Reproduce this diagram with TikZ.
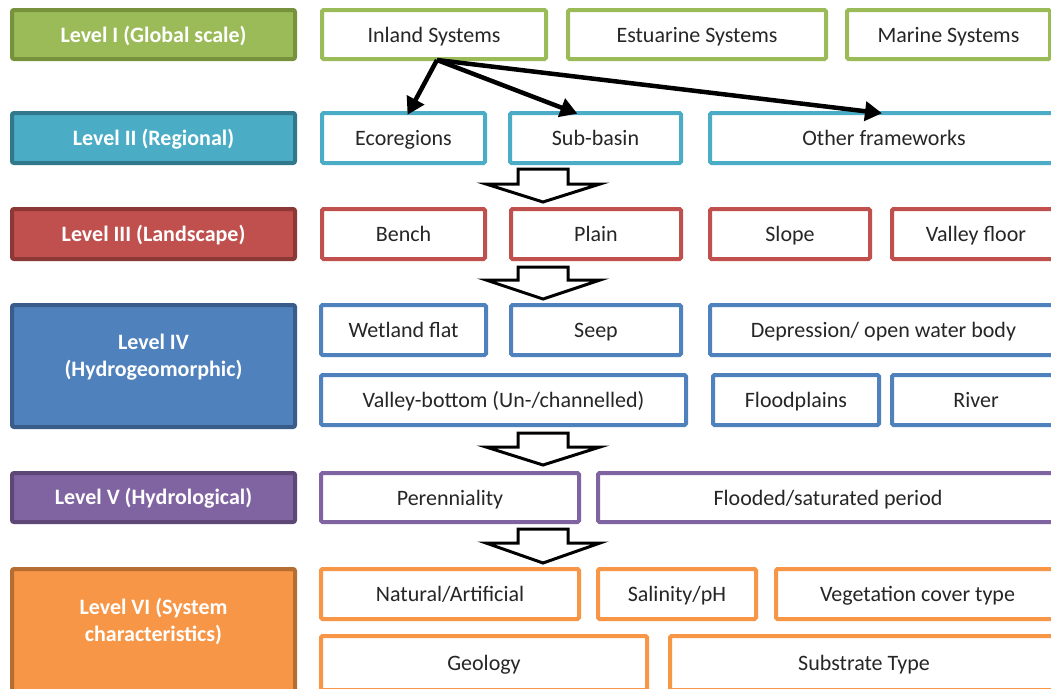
\documentclass[tikz,border=0pt]{standalone}
\usepackage{fontspec}
\setmainfont{Carlito}
\usetikzlibrary{arrows.meta}
\definecolor{gF}{HTML}{9BBB59}\definecolor{gD}{HTML}{76923C}
\definecolor{cF}{HTML}{4BACC6}\definecolor{cD}{HTML}{31788D}
\definecolor{rF}{HTML}{C0504D}\definecolor{rD}{HTML}{8C3836}
\definecolor{bF}{HTML}{4F81BD}\definecolor{bD}{HTML}{385D8A}
\definecolor{pF}{HTML}{8064A2}\definecolor{pD}{HTML}{5C4776}
\definecolor{oF}{HTML}{F79646}\definecolor{oD}{HTML}{B66D31}
\definecolor{txt}{HTML}{262626}
\tikzset{
  rb/.style={draw, line width=4pt, fill=white, inner sep=0pt, outer sep=0pt,
    text=txt, font=\fontsize{22}{27}\selectfont, rounded corners=1.5pt,
    text height=17pt, text depth=2pt},
  lb/.style={draw, line width=4pt, inner sep=0pt, outer sep=0pt,
    text=white, align=center, rounded corners=2pt},
  lt/.style={text=white, font=\bfseries\fontsize{22}{27}\selectfont, align=center},
  link/.style={line width=4.5pt, draw=black, -{Triangle[length=17pt,width=19pt]}, shorten >=-2pt},
  blockarrow/.style={draw=black, fill=white, line width=3pt, line join=miter}
}
% #1 name, #2 x1, #3 y1, #4 x2, #5 y2, #6 colour, #7 text
\newcommand\rbx[7]{\node[rb, draw=#6, minimum width={#4-#2-4}, minimum height={#5-#3-4}]
  (#1) at ({(#2+#4)/2},{(#3+#5)/2}) {#7};}
\newcommand\lbx[7]{\node[lb, draw=#6, fill=#7, minimum width={#4-#2-4}, minimum height={#5-#3-4}]
  (#1) at ({(#2+#4)/2},{(#3+#5)/2}) {};}
\newcommand\blk[4]{% x-centre, top, shoulder, tip
  \draw[blockarrow] (#1-25,#2) -- (#1+25,#2) -- (#1+25,#3) -- (#1+57,#3) -- (#1,#4)
   -- (#1-57,#3) -- (#1-25,#3) -- cycle;}
\begin{document}
\begin{tikzpicture}[x=1pt,y=-1pt]
\useasboundingbox (0,0) rectangle (1051,688);
\fill[white] (0,0) rectangle (1051,688);
\clip (0,0) rectangle (1051,688);
% left level boxes
\lbx{L1}{10}{8}{297}{61}{gD}{gF}
\node[lt] at ([yshift=-1pt]L1.center) {Level I (Global scale)};
\lbx{L2}{10}{111}{297}{165}{cD}{cF}
\node[lt] at ([yshift=-1pt]L2.center) {Level II (Regional)};
\lbx{L3}{10}{207}{297}{261}{rD}{rF}
\node[lt] at ([yshift=-1pt]L3.center) {Level III (Landscape)};
\lbx{L4}{10}{303}{297}{429}{bD}{bF}
\node[lt] at ([yshift=9pt]L4.center) {Level IV\\(Hydrogeomorphic)};
\lbx{L5}{10}{471}{297}{524}{pD}{pF}
\node[lt] at ([yshift=-1pt]L5.center) {Level V (Hydrological)};
\lbx{L6}{10}{567}{297}{694}{oD}{oF}
\node[lt] at ([yshift=9pt]L6.center) {Level VI (System\\characteristics)};
% row I
\rbx{inland}{320}{8}{548}{61}{gF}{Inland Systems}
\rbx{estuarine}{566}{8}{828}{61}{gF}{Estuarine Systems}
\rbx{marine}{845}{8}{1052}{61}{gF}{Marine Systems}
% row II
\rbx{eco}{320}{111}{487}{165}{cF}{Ecoregions}
\rbx{sub}{508}{111}{683}{165}{cF}{Sub-basin}
\rbx{other}{708}{111}{1060}{165}{cF}{Other frameworks}
% row III
\rbx{bench}{320}{207}{487}{261}{rF}{Bench}
\rbx{plain}{509}{207}{683}{261}{rF}{Plain}
\rbx{slope}{708}{207}{872}{261}{rF}{Slope}
\rbx{valleyfloor}{890}{207}{1062}{261}{rF}{Valley floor}
% row IV
\rbx{wetland}{319}{303}{488}{357}{bF}{Wetland flat}
\rbx{seep}{509}{303}{683}{357}{bF}{Seep}
\rbx{depression}{708}{303}{1059}{357}{bF}{Depression/ open water body}
\rbx{valleybottom}{319}{373}{688}{427}{bF}{Valley-bottom (Un-/channelled)}
\rbx{flood}{711}{373}{881}{427}{bF}{Floodplains}
\rbx{river}{890}{373}{1062}{427}{bF}{River}
% row V
\rbx{peren}{319}{471}{581}{524}{pF}{Perenniality}
\rbx{flooded}{596}{471}{1060}{524}{pF}{Flooded/saturated period}
% row VI
\rbx{natural}{319}{567}{581}{621}{oF}{Natural/Artificial}
\rbx{salinity}{596}{567}{758}{621}{oF}{Salinity/pH}
\rbx{veg}{774}{567}{1061}{621}{oF}{Vegetation cover type}
\rbx{geology}{319}{634}{649}{692}{oF}{Geology}
\rbx{substrate}{668}{634}{1060}{692}{oF}{Substrate Type}
% links
\coordinate (src) at ([xshift=3pt,yshift=-1pt]inland.south);
\draw[link] (src) -- ([xshift=5pt]eco.north);
\draw[link] (src) -- ([xshift=-20pt]sub.north);
\draw[link] (src) -- ([xshift=-4pt]other.north);
% block arrows
\blk{543}{169}{184}{202}
\blk{543}{267}{280}{299}
\blk{543}{433}{447}{465}
\blk{543}{529}{543}{563}
\end{tikzpicture}
\end{document}
